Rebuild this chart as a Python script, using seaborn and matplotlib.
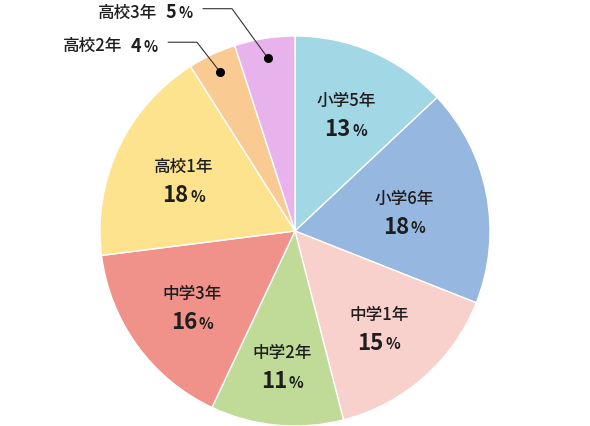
import numpy as np
import matplotlib
matplotlib.use("Agg")
import matplotlib.pyplot as plt
import seaborn as sns

labels = ["小学5年", "小学6年", "中学1年", "中学2年", "中学3年", "高校1年", "高校2年", "高校3年"]
values = [13, 18, 15, 11, 16, 18, 4, 5]
colors = ["#a2d7e6", "#95b7e0", "#f8d0cc", "#bfdb97", "#f0918a", "#fee38f", "#f9cb93", "#e8b2ec"]

sns.set_style("white")
plt.rcParams['font.family'] = ['Noto Sans CJK JP', 'DejaVu Sans']

fig = plt.figure(figsize=(5.9, 4.27), dpi=100)
ax = fig.add_axes([0, 0, 1, 1])
ax.set_aspect('equal')
ax.axis('off')

wedges, _ = ax.pie(values, colors=colors, startangle=90, counterclock=False,
                   radius=1.0, wedgeprops=dict(edgecolor='white', linewidth=1.0))
ax.set_xlim(-295/195, 295/195)
ax.set_ylim(-1.0, 232/195)

tc = "#1e1e1e"
total = sum(values)
cum = 0
inside_r = [0.66, 0.57, 0.65, 0.69, 0.65, 0.63]
for i, (lab, v) in enumerate(zip(labels, values)):
    mid = np.deg2rad(90 - (cum + v / 2) / total * 360)
    cum += v
    if i < 6:
        r = inside_r[i]
        x, y = r * np.cos(mid), r * np.sin(mid)
        ax.annotate(lab, (x, y), xytext=(0, 9), textcoords='offset points',
                    ha='center', va='center', fontsize=12, fontweight='medium', color=tc)
        ax.annotate(str(v), (x, y), xytext=(3.5, -11.5), textcoords='offset points',
                    ha='right', va='center', fontsize=16, fontweight='bold', color=tc)
        ax.annotate("%", (x, y), xytext=(4.5, -12.3), textcoords='offset points',
                    ha='left', va='center', fontsize=11, fontweight='bold', color=tc)
    else:
        dr = 0.9
        dx, dy = dr * np.cos(mid), dr * np.sin(mid)
        ax.plot([dx], [dy], 'o', color='black', markersize=5.5, zorder=5)
        if i == 7:
            ly, lx0, lx1 = 1.14, -0.472, -0.323
        else:
            ly, lx0, lx1 = 0.968, -0.651, -0.503
        ax.plot([lx0, lx1, dx], [ly, ly, dy], color='#333333', linewidth=0.8, zorder=4)
        ax.annotate("%", (lx0, ly), xytext=(-7.5, -2.6), textcoords='offset points',
                    ha='right', va='center', fontsize=10.5, fontweight='bold', color=tc)
        ax.annotate(str(v), (lx0, ly), xytext=(-19, -2.3), textcoords='offset points',
                    ha='right', va='center', fontsize=13, fontweight='bold', color=tc)
        ax.annotate(lab, (lx0, ly), xytext=(-33, -2.3), textcoords='offset points',
                    ha='right', va='center', fontsize=12, fontweight='medium', color=tc)

fig.savefig("out.png", dpi=100, facecolor='white')
